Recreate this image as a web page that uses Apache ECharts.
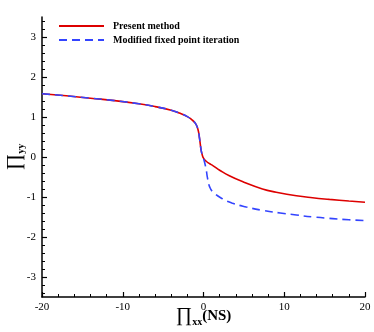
<!DOCTYPE html>
<html>
<head>
<meta charset="utf-8">
<script src="https://cdn.jsdelivr.net/npm/echarts@6/dist/echarts.min.js"></script>
<style>
html, body { margin: 0; padding: 0; background: #fff; }
#main { width: 374px; height: 332px; }
</style>
</head>
<body>
<div id="main"></div>
<script>
// values
var presentX = [-20, -17, -14, -11, -8, -6, -4, -3, -2, -1.5, -1, -0.7, -0.5, -0.3, -0.15, 0, 0.3, 0.7, 1.2, 2, 3.2, 5, 7.3, 9, 11.5, 13.5, 15.6, 18, 20];
var presentY = [1.58, 1.53, 1.47, 1.41, 1.33, 1.26, 1.17, 1.1, 1.01, 0.94, 0.84, 0.7, 0.48, 0.18, 0.05, -0.03, -0.1, -0.16, -0.22, -0.33, -0.47, -0.63, -0.8, -0.88, -0.97, -1.02, -1.06, -1.1, -1.13];
var modifiedX = [-20, -17, -14, -11, -8, -6, -4, -3, -2, -1.5, -1, -0.7, -0.5, -0.3, -0.15, 0, 0.3, 0.5, 0.75, 1.2, 2.4, 3.5, 5.3, 7.5, 9.5, 11.5, 13.6, 16, 18, 20];
var modifiedY = [1.58, 1.53, 1.47, 1.41, 1.33, 1.26, 1.17, 1.1, 1.01, 0.94, 0.84, 0.7, 0.48, 0.18, 0.05, -0.03, -0.28, -0.53, -0.74, -0.88, -1.05, -1.15, -1.25, -1.34, -1.4, -1.45, -1.5, -1.54, -1.57, -1.59];
var yMajor = [-3, -2, -1, 0, 1, 2, 3];
var yMinor = [-3.4, -3.2, -2.8, -2.6, -2.4, -2.2, -1.8, -1.6, -1.4, -1.2, -0.8, -0.6, -0.4, -0.2, 0.2, 0.4, 0.6, 0.8, 1.2, 1.4, 1.6, 1.8, 2.2, 2.4, 2.6, 2.8, 3.2, 3.4];

function pairs(xs, ys) {
    var res = [];
    for (var i = 0; i < xs.length; i++) res.push([xs[i], ys[i]]);
    return res;
}

var serif = 'Liberation Serif';

option = {
    backgroundColor: '#fff',
    animation: false,
    grid: { left: 42, right: 9, top: 17, bottom: 35, containLabel: false, outerBoundsMode: 'none' },
    legend: {
        left: 58, top: 21, padding: 0, orient: 'vertical', itemGap: 4,
        itemWidth: 45, itemHeight: 8,
        itemStyle: { opacity: 0 },
        textStyle: { fontFamily: serif, fontWeight: 'bold', fontSize: 10, color: '#000', padding: [0, 0, 0, 4] },
        data: ['Present method', 'Modified fixed point iteration']
    },
    xAxis: {
        type: 'value', min: -20, max: 20, interval: 10,
        name: '{p|\u220F}{s|xx}{n|(NS)}',
        nameLocation: 'middle', nameGap: 8, nameMoveOverlap: false,
        nameTextStyle: {
            rich: {
                p: { fontFamily: serif, fontSize: 20, color: '#000' },
                s: { fontFamily: serif, fontSize: 10, fontWeight: 'bold', color: '#000', padding: [12, 0, 0, 0] },
                n: { fontFamily: serif, fontSize: 15, fontWeight: 'bold', color: '#000' }
            }
        },
        axisLine: { onZero: false, lineStyle: { color: '#000', width: 1.5 } },
        axisTick: { inside: true, length: 5, lineStyle: { color: '#000', width: 1.2 } },
        minorTick: { show: true, splitNumber: 5, length: 3, lineStyle: { color: '#000' } },
        axisLabel: { fontFamily: serif, fontSize: 11, color: '#000', margin: 5 },
        splitLine: { show: false }
    },
    yAxis: [{
        type: 'value', min: -3.5, max: 3.5,
        name: '{p|\u220F}{s|yy}',
        nameLocation: 'middle', nameGap: 16, nameRotate: 90, nameMoveOverlap: false,
        nameTextStyle: {
            rich: {
                p: { fontFamily: serif, fontSize: 20, color: '#000' },
                s: { fontFamily: serif, fontSize: 10, fontWeight: 'bold', color: '#000', padding: [12, 0, 0, 0] }
            }
        },
        axisLine: { onZero: false, lineStyle: { color: '#000', width: 1.5 } },
        axisTick: { show: true, inside: true, length: 5, customValues: yMajor, lineStyle: { color: '#000', width: 1.2 } },
        axisLabel: { fontFamily: serif, fontSize: 11, color: '#000', margin: 6, customValues: yMajor },
        splitLine: { show: false }
    }, {
        type: 'value', min: -3.5, max: 3.5, position: 'left',
        axisLine: { show: false, onZero: false },
        axisTick: { show: true, inside: true, length: 3, customValues: yMinor, lineStyle: { color: '#000' } },
        axisLabel: { show: false },
        splitLine: { show: false }
    }],
    series: [
        {
            name: 'Present method', type: 'line', smooth: true, symbol: 'none',
            data: pairs(presentX, presentY),
            lineStyle: { color: '#dd0000', width: 1.6 },
            itemStyle: { color: '#dd0000' }
        },
        {
            name: 'Modified fixed point iteration', type: 'line', smooth: true, symbol: 'none',
            data: pairs(modifiedX, modifiedY),
            lineStyle: { color: '#3344ff', width: 1.6, type: [8, 5] },
            itemStyle: { color: '#3344ff' }
        }
    ]
};

var myChart = echarts.init(document.getElementById('main'));
myChart.setOption(option);
</script>
</body>
</html>
